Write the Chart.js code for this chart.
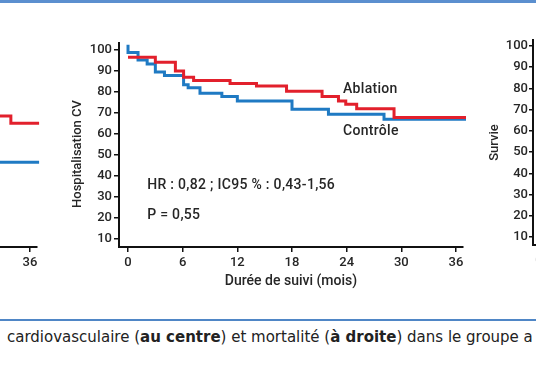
<!DOCTYPE html>
<html>
<head>
<meta charset="utf-8">
<script src="https://cdn.jsdelivr.net/npm/chart.js@4"></script>
<style>
  html, body { margin: 0; padding: 0; width: 536px; height: 386px; overflow: hidden; background: #fff; }
  body { position: relative; }
  canvas { position: absolute; }
  #topRule { position: absolute; left: 0; top: 0; width: 536px; height: 3px; background: #5b8fcf; }
  #bottomRule { position: absolute; left: 0; top: 319px; width: 536px; height: 2px; background: #4f86c6; }
  #caption { position: absolute; left: 7px; top: 328px; white-space: nowrap; font: 15px "DejaVu Sans", sans-serif; color: #222; }
</style>
</head>
<body>
<div id="topRule"></div>
<canvas id="leftChart" width="380" height="270" style="left:-330px;top:30px"></canvas>
<canvas id="mainChart" width="420" height="270" style="left:60px;top:30px"></canvas>
<canvas id="rightChart" width="300" height="270" style="left:470px;top:30px"></canvas>
<div id="bottomRule"></div>
<div id="caption">cardiovasculaire (<b>au centre</b>) et mortalité (<b>à droite</b>) dans le groupe a</div>

<script>
// 🔹 TICKS
const monthTicks = [0, 6, 12, 18, 24, 30, 36];
const pctTicks = [10, 20, 30, 40, 50, 60, 70, 80, 90, 100];

// 🔥 CENTRE : hospitalisation CV (Kaplan-Meier)
const ablationMonths = [0, 3.0, 5.2, 6.1, 7.2, 11.2, 14.1, 17.4, 21.3, 23.1, 23.9, 25.1, 29.2, 37.1];
const ablationValues = [96.6, 94.2, 90.0, 87.0, 85.5, 84.1, 82.8, 80.3, 77.8, 75.7, 74.2, 72.0, 67.9, 67.9];
const controleMonths = [0, 0, 1.1, 2.1, 3.0, 4.0, 6.1, 6.6, 7.9, 10.3, 12.0, 18.0, 22.0, 28.1, 37.1];
const controleValues = [102.5, 98.8, 95.2, 93.3, 89.5, 87.9, 83.5, 82.0, 79.4, 77.8, 75.7, 71.8, 69.4, 67.0, 67.0];

// 🔥 GAUCHE : fin des courbes (seule partie visible)
const leftAblationMonths = [30, 33.9, 37.0];
const leftAblationValues = [68.6, 65.1, 65.1];
const leftControleMonths = [30, 37.0];
const leftControleValues = [46.5, 46.5];

// 🔥 TEXTES DANS LE GRAPHIQUE
const notes = [
    { text: "Ablation", x: 23.6, y: 81.0 },
    { text: "Contrôle", x: 23.6, y: 61.4 },
    { text: "HR : 0,82 ; IC95 % : 0,43-1,56", x: 2.1, y: 35.7 },
    { text: "P = 0,55", x: 2.1, y: 21.4 }
];
const mainYTitle = "Hospitalisation CV";

const RED = "#e2202c";
const BLUE = "#1f7ac3";
const INK = "#262626";

Chart.defaults.font.family = "Roboto, sans-serif";
Chart.defaults.font.weight = 500;
Chart.defaults.color = INK;

function toPoints(xs, ys) {
    return xs.map((x, i) => ({ x: x, y: ys[i] }));
}

function stepLine(label, xs, ys, color) {
    return {
        label: label,
        data: toPoints(xs, ys),
        borderColor: color,
        borderWidth: 3,
        pointRadius: 0,
        stepped: true,
        fill: false,
        clip: false
    };
}

// 🔹 X AXIS
function monthAxis(height, title) {
    return {
        type: 'linear',
        min: -0.99,
        max: 36.77,
        afterBuildTicks: s => { s.ticks = monthTicks.map(v => ({ value: v })); },
        afterFit: s => { s.height = height; },
        border: { color: '#111', width: 2 },
        grid: { drawOnChartArea: false, tickLength: 5, color: '#111', lineWidth: 1.5 },
        ticks: { font: { size: 13 }, padding: 3, maxRotation: 0, autoSkip: false },
        title: { display: !!title, text: title, font: { size: 14 }, padding: { bottom: 10 } }
    };
}

// 🔹 Y AXIS
function pctAxis(min, max, width, title, titlePad, tickLen, tickPad) {
    return {
        type: 'linear',
        min: min,
        max: max,
        afterBuildTicks: s => { s.ticks = pctTicks.map(v => ({ value: v })); },
        afterFit: s => { s.width = width; },
        border: { color: '#111', width: 2 },
        grid: { drawOnChartArea: false, tickLength: tickLen, color: '#111', lineWidth: 1.5 },
        ticks: { font: { size: 13 }, padding: tickPad, autoSkip: false },
        title: { display: !!title, text: title, font: { size: 13 }, padding: { top: titlePad } }
    };
}

// 🔥 NOTES PLUGIN (annotations + y title a bit below the centre, like the original)
const notesPlugin = {
    id: 'notes',
    afterDatasetsDraw(chart) {
        const ctx = chart.ctx;
        const xs = chart.scales.x;
        const ys = chart.scales.y;
        ctx.save();
        ctx.font = "500 14px Roboto, sans-serif";
        ctx.fillStyle = INK;
        ctx.textAlign = "left";
        ctx.textBaseline = "middle";
        ctx.letterSpacing = "0.3px";
        notes.forEach(n => {
            ctx.fillText(n.text, xs.getPixelForValue(n.x), ys.getPixelForValue(n.y));
        });

        // y title
        ctx.letterSpacing = "0px";
        ctx.font = "500 13px Roboto, sans-serif";
        ctx.textAlign = "center";
        ctx.translate(ys.left + 18, (chart.chartArea.top + chart.chartArea.bottom) / 2 + 9);
        ctx.rotate(-Math.PI / 2);
        ctx.fillText(mainYTitle, 0, 0);
        ctx.restore();
    }
};

const baseOptions = {
    responsive: false,
    animation: false,
    devicePixelRatio: 1,
    plugins: { legend: { display: false }, tooltip: { enabled: false } }
};

// 🔥 CENTRE
new Chart(document.getElementById("mainChart"), {
    type: 'line',
    data: {
        datasets: [
            stepLine('Ablation', ablationMonths, ablationValues, RED),
            stepLine('Contrôle', controleMonths, controleValues, BLUE)
        ]
    },
    options: Object.assign({}, baseOptions, {
        layout: { padding: { top: 13, right: 17, left: 0, bottom: 0 } },
        scales: {
            x: monthAxis(53, "Durée de suivi (mois)"),
            y: pctAxis(6.19, 103.33, 59, "", 10, 5, 2)
        }
    }),
    plugins: [notesPlugin]
});

// 🔥 GAUCHE (coupé)
new Chart(document.getElementById("leftChart"), {
    type: 'line',
    data: {
        datasets: [
            stepLine('Ablation', leftAblationMonths, leftAblationValues, RED),
            stepLine('Contrôle', leftControleMonths, leftControleValues, BLUE)
        ]
    },
    options: Object.assign({}, baseOptions, {
        layout: { padding: { top: 13, right: 13, left: 23, bottom: 0 } },
        scales: {
            x: monthAxis(53, ""),
            y: { display: false, min: 6.19, max: 103.33 }
        }
    })
});

// 🔥 DROITE (coupé) : survie
new Chart(document.getElementById("rightChart"), {
    type: 'line',
    data: { datasets: [] },
    options: Object.assign({}, baseOptions, {
        layout: { padding: { top: 10, right: 0, left: 0, bottom: 0 } },
        scales: {
            x: monthAxis(55, ""),
            y: pctAxis(6.23, 102.8, 63, "Survie", 17, 4, 1)
        }
    })
});
</script>
</body>
</html>
